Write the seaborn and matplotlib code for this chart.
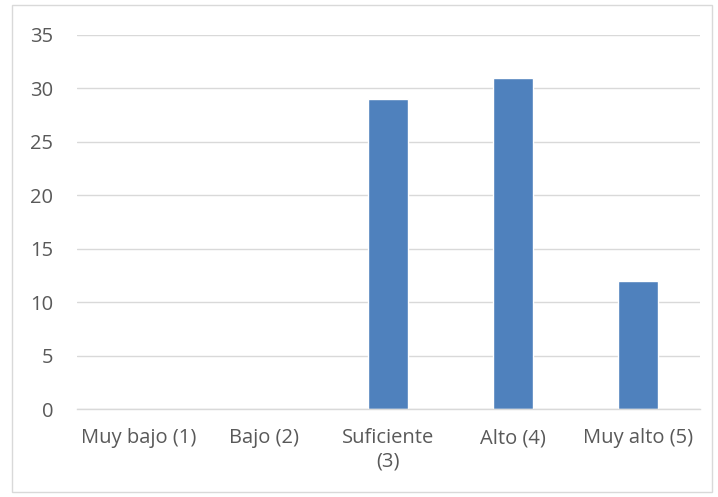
import matplotlib
matplotlib.use("Agg")
import matplotlib.pyplot as plt
import seaborn as sns
import pandas as pd
from matplotlib.patches import Rectangle

categories = ["Muy bajo (1)", "Bajo (2)", "Suficiente\n(3)", "Alto (4)", "Muy alto (5)"]
values = [0, 0, 29, 31, 12]
yticks = [0, 5, 10, 15, 20, 25, 30, 35]

sns.set_style("white")
plt.rcParams['font.family'] = ['Open Sans', 'DejaVu Sans']

df = pd.DataFrame({"cat": categories, "val": values})

fig = plt.figure(figsize=(7.18, 4.97), dpi=100)
ax = fig.add_axes([0.107, 0.177, 0.868, 0.753])
sns.barplot(data=df, x="cat", y="val", color="#4F81BD", width=0.32, saturation=1, ax=ax)

ax.set_ylim(0, 35)
ax.set_yticks(yticks)
ax.set_xlim(-0.5, 4.5)
ax.grid(axis="y", color="#D9D9D9", linewidth=1)
ax.set_axisbelow(True)
for s in ["top", "right", "left"]:
    ax.spines[s].set_visible(False)
ax.spines["bottom"].set_color("#D9D9D9")
ax.spines["bottom"].set_linewidth(1)
ax.set_xlabel("")
ax.set_ylabel("")
ax.tick_params(axis="both", length=0, labelsize=14.5, colors="#595959")
ax.tick_params(axis="y", pad=17)
ax.tick_params(axis="x", pad=14)
for lab in ax.get_xticklabels():
    lab.set_linespacing(1.2)

fig.patches.append(Rectangle((12/718, 5/497), 700/718, 487/497, transform=fig.transFigure,
                             fill=False, edgecolor="#D9D9D9", linewidth=1))

fig.savefig("out.png", dpi=100)
